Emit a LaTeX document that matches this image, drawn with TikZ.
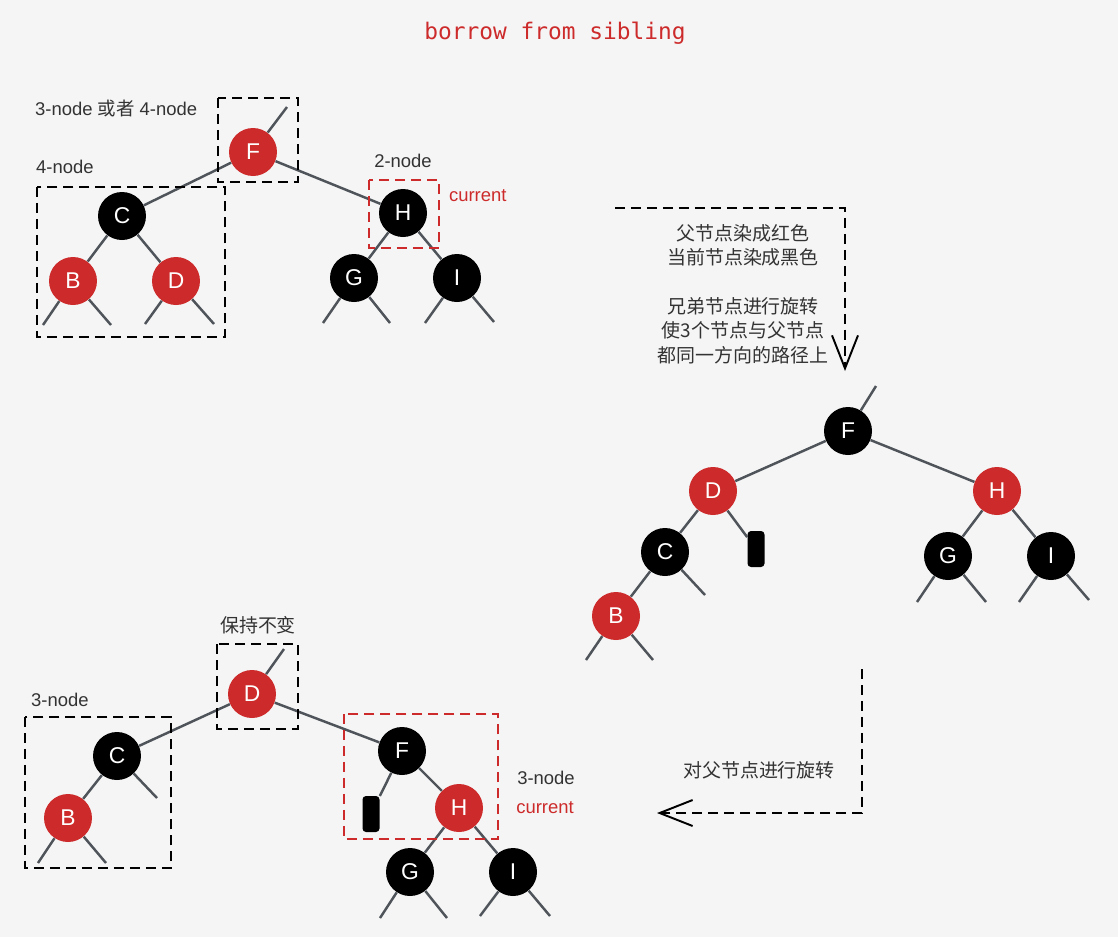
\documentclass[tikz,border=0pt]{standalone}
\usepackage{fontspec}
\setmainfont{Liberation Sans}
\newfontfamily\cjk{Noto Sans CJK SC}
\newfontfamily\codefont{DejaVu Sans Mono}
\usepackage{xcolor}
\usetikzlibrary{arrows.meta, calc}

\definecolor{rbred}{RGB}{205,43,43}
\definecolor{linkgray}{RGB}{78,84,90}
\definecolor{labelgray}{RGB}{51,51,51}
\definecolor{bggray}{RGB}{245,245,245}

\begin{document}
\begin{tikzpicture}[
        x=0.02cm, y=-0.02cm,
        rb/.style = {circle, minimum size=0.96cm, inner sep=0pt, text=white, font=\fontsize{13pt}{13pt}\selectfont},
        rnode/.style = {rb, fill=rbred},
        bnode/.style = {rb, fill=black},
        nilbox/.style = {rectangle, fill=black, rounded corners=2pt, minimum width=0.34cm, minimum height=0.72cm, inner sep=0pt},
        link/.style = {draw=linkgray, line width=1.4pt},
        grp/.style = {draw=black, line width=1.1pt, dash pattern=on 5.7pt off 3.4pt},
        cur/.style = {draw=rbred, line width=1.1pt, dash pattern=on 5.7pt off 3.4pt},
        lbl/.style = {text=labelgray, inner sep=1pt, font=\fontsize{10.5pt}{12pt}\selectfont},
        note/.style = {text=labelgray, align=center, inner sep=1pt, font=\cjk\fontsize{10.8pt}{13.9pt}\selectfont},
        flow/.style = {line width=1.1pt, dash pattern=on 5.7pt off 3.4pt, -{Straight Barb[length=0.66cm, width=0.52cm]}}
      ]

      \fill[bggray] (0,0) rectangle (1118,937);

      \node[text=rbred, font=\codefont\fontsize{13pt}{13pt}\selectfont] (title) at (555,33) {borrow from sibling};

      % ================= BEFORE =================
      \node[rnode] (aF) at (253,152) {F};
      \node[bnode] (aC) at (122,216) {C};
      \node[rnode] (aB) at (73,281) {B};
      \node[rnode] (aD) at (176,281) {D};
      \node[bnode] (aH) at (403,213) {H};
      \node[bnode] (aG) at (354,278) {G};
      \node[bnode] (aI) at (457,278) {I};

      \coordinate (aFp) at (287,107);
      \coordinate (aBl) at (43,325);
      \coordinate (aBr) at (111,325);
      \coordinate (aDl) at (145,324);
      \coordinate (aDr) at (214,324);
      \coordinate (aGl) at (323,323);
      \coordinate (aGr) at (390,323);
      \coordinate (aIl) at (425,323);
      \coordinate (aIr) at (494,322);

      \draw[link] (aF) -- (aFp);
      \draw[link] (aF) -- (aC);
      \draw[link] (aF) -- (aH);
      \draw[link] (aC) -- (aB);
      \draw[link] (aC) -- (aD);
      \draw[link] (aB) -- (aBl);
      \draw[link] (aB) -- (aBr);
      \draw[link] (aD) -- (aDl);
      \draw[link] (aD) -- (aDr);
      \draw[link] (aH) -- (aG);
      \draw[link] (aH) -- (aI);
      \draw[link] (aG) -- (aGl);
      \draw[link] (aG) -- (aGr);
      \draw[link] (aI) -- (aIl);
      \draw[link] (aI) -- (aIr);

      \draw[grp] (218,98) rectangle (298,182);
      \draw[grp] (37,187) rectangle (225,337);
      \draw[cur] (369,180) rectangle (439,248);

      \node[lbl, anchor=west] (aL1) at (33,108) {3-node {\cjk 或者} 4-node};
      \node[lbl, anchor=west] (aL2) at (34,167) {4-node};
      \node[lbl] (aL3) at (403,161) {2-node};
      \node[lbl, text=rbred, anchor=west] (aL4) at (447,196) {current};

      % ================= RECOLOR + SIBLING ROTATION =================
      \coordinate (r1a) at (615,208);
      \coordinate (r1b) at (845,371);
      \draw[flow] (r1a) -| (r1b);
      \node[note] (tip1) at (743,294) {父节点染成红色\\当前节点染成黑色\\[13.9pt]兄弟节点进行旋转\\使3个节点与父节点\\都同一方向的路径上};

      \node[bnode] (bF) at (848,431) {F};
      \node[rnode] (bD) at (713,491) {D};
      \node[rnode] (bH) at (997,491) {H};
      \node[bnode] (bC) at (665,552) {C};
      \node[nilbox] (bnil) at (756,549) {};
      \node[rnode] (bB) at (616,616) {B};
      \node[bnode] (bG) at (948,556) {G};
      \node[bnode] (bI) at (1051,556) {I};

      \coordinate (bFp) at (876,386);
      \coordinate (bCr) at (705,595);
      \coordinate (bBl) at (586,660);
      \coordinate (bBr) at (653,660);
      \coordinate (bGl) at (917,602);
      \coordinate (bGr) at (986,602);
      \coordinate (bIl) at (1019,602);
      \coordinate (bIr) at (1089,600);

      \draw[link] (bF) -- (bFp);
      \draw[link] (bF) -- (bD);
      \draw[link] (bF) -- (bH);
      \draw[link] (bD) -- (bC);
      \draw[link] (bD) -- (bnil);
      \draw[link] (bC) -- (bB);
      \draw[link] (bC) -- (bCr);
      \draw[link] (bB) -- (bBl);
      \draw[link] (bB) -- (bBr);
      \draw[link] (bH) -- (bG);
      \draw[link] (bH) -- (bI);
      \draw[link] (bG) -- (bGl);
      \draw[link] (bG) -- (bGr);
      \draw[link] (bI) -- (bIl);
      \draw[link] (bI) -- (bIr);

      % ================= PARENT ROTATION =================
      \coordinate (r2a) at (862,669);
      \coordinate (r2b) at (657,813);
      \draw[flow] (r2a) |- (r2b);
      \node[note] (tip2) at (759,770) {对父节点进行旋转};

      \node[rnode] (cD) at (252,694) {D};
      \node[bnode] (cC) at (117,756) {C};
      \node[rnode] (cB) at (68,818) {B};
      \node[bnode] (cF) at (402,751) {F};
      \node[nilbox] (cnil) at (371,814) {};
      \node[rnode] (cH) at (459,808) {H};
      \node[bnode] (cG) at (410,872) {G};
      \node[bnode] (cI) at (513,872) {I};

      \coordinate (cDp) at (284,649);
      \coordinate (cCr) at (157,798);
      \coordinate (cBl) at (38,863);
      \coordinate (cBr) at (106,863);
      \coordinate (cGl) at (380,918);
      \coordinate (cGr) at (447,918);
      \coordinate (cIl) at (480,916);
      \coordinate (cIr) at (550,916);

      \draw[link] (cD) -- (cDp);
      \draw[link] (cD) -- (cC);
      \draw[link] (cD) -- (cF);
      \draw[link] (cC) -- (cB);
      \draw[link] (cC) -- (cCr);
      \draw[link] (cB) -- (cBl);
      \draw[link] (cB) -- (cBr);
      \draw[link] (cF) -- (cnil);
      \draw[link] (cF) -- (cH);
      \draw[link] (cH) -- (cG);
      \draw[link] (cH) -- (cI);
      \draw[link] (cG) -- (cGl);
      \draw[link] (cG) -- (cGr);
      \draw[link] (cI) -- (cIl);
      \draw[link] (cI) -- (cIr);

      \draw[grp] (217,644) rectangle (298,729);
      \draw[grp] (25,717) rectangle (171,868);
      \draw[cur] (344,714) rectangle (498,839);

      \node[note] (cL1) at (258,625) {保持不变};
      \node[lbl, anchor=west] (cL2) at (29,700) {3-node};
      \node[lbl] (cL3) at (546,778) {3-node};
      \node[lbl, text=rbred] (cL4) at (545,808) {current};

    \end{tikzpicture}
\end{document}
